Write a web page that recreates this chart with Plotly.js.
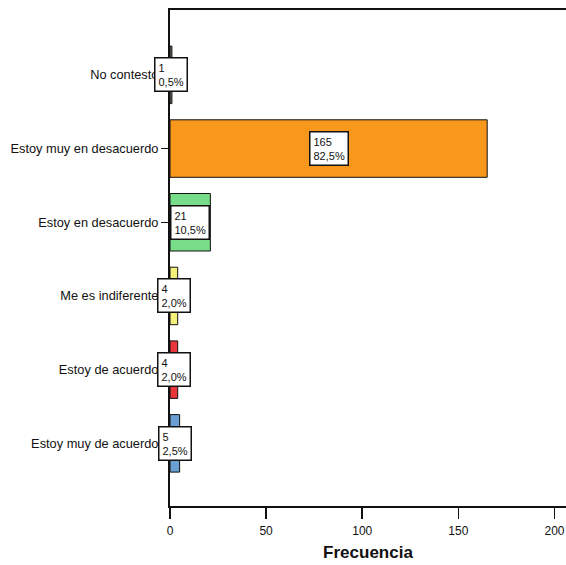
<!DOCTYPE html>
<html>
<head>
<meta charset="utf-8">
<script src="https://cdn.plot.ly/plotly-3.0.1.min.js"></script>
<style>html,body{margin:0;padding:0;background:#fff;}#chart{width:566px;height:565px;}</style>
</head>
<body>
<div id="chart"></div>
<script>
const categories = ["No contestó", "Estoy muy en desacuerdo", "Estoy en desacuerdo", "Me es indiferente", "Estoy de acuerdo", "Estoy muy de acuerdo"];
const counts = [1, 165, 21, 4, 4, 5];
const percents = ["0,5%", "82,5%", "10,5%", "2,0%", "2,0%", "2,5%"];
const colors = ["#7a7a6a", "#F7981D", "#77DD88", "#F5F07A", "#E8363C", "#6A9FD4"];

const trace = {
  type: "bar",
  orientation: "h",
  x: counts,
  y: categories,
  width: 0.78,
  marker: {color: colors, line: {color: "#111", width: 1}},
  hoverinfo: "none"
};

const annotations = categories.map((c, i) => ({
  x: counts[i] / 2,
  y: c,
  xref: "x",
  yref: "y",
  text: counts[i] + "<br>" + percents[i],
  showarrow: false,
  align: "left",
  bgcolor: "#ffffff",
  bordercolor: "#111",
  borderwidth: 1.5,
  borderpad: 3,
  font: {family: "Liberation Sans, Arial, sans-serif", size: 11, color: "#111"}
}));

const layout = {
  width: 566,
  height: 565,
  margin: {l: 170, r: 0, t: 10, b: 59},
  paper_bgcolor: "#fff",
  plot_bgcolor: "#fff",
  showlegend: false,
  font: {family: "Liberation Sans, Arial, sans-serif", color: "#111"},
  xaxis: {
    range: [0, 206],
    tickvals: [0, 50, 100, 150, 200],
    ticks: "outside",
    ticklen: 11,
    tickwidth: 1.5,
    tickcolor: "#111",
    ticklabelstandoff: 2,
    showline: true,
    linecolor: "#111",
    linewidth: 2,
    mirror: true,
    showgrid: false,
    zeroline: false,
    tickfont: {size: 12, color: "#111"},
    title: {text: "<b>Frecuencia</b>", font: {size: 17, color: "#111"}, standoff: 9}
  },
  yaxis: {
    type: "category",
    categoryarray: categories,
    range: [5.85, -0.88],
    ticks: "outside",
    ticklen: 7,
    tickwidth: 1.2,
    tickcolor: "#111",
    showline: true,
    linecolor: "#111",
    linewidth: 2,
    showgrid: false,
    zeroline: false,
    tickfont: {size: 12.8, color: "#111"}
  },
  annotations: annotations
};

Plotly.newPlot("chart", [trace], layout, {displayModeBar: false, staticPlot: true});
</script>
</body>
</html>
